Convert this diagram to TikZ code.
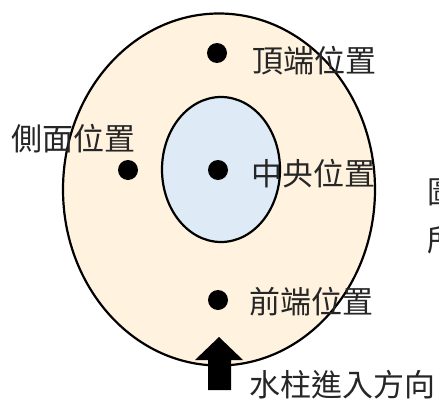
\documentclass[tikz,border=0pt]{standalone}
\usepackage{fontspec}
\usetikzlibrary{shapes.geometric}
\newfontfamily\cjk{Noto Sans CJK TC}
\definecolor{outerfill}{HTML}{FFF3DF}
\definecolor{innerfill}{HTML}{DEEBF7}
\tikzset{
  region/.style={draw=black, line width=2.2pt, shape=ellipse, inner sep=0pt},
  spot/.style={circle, fill=black, minimum size=20pt, inner sep=0pt},
  lbl/.style={anchor=base west, inner sep=0pt, font=\cjk\fontsize{31}{37}\selectfont, text=black!85}
}
\begin{document}
\begin{tikzpicture}[x=1pt,y=-1pt]
\useasboundingbox (0,0) rectangle (439,399);
\clip (0,0) rectangle (439,399);
\fill[white] (0,0) rectangle (439,399);
% outer and inner regions
\node[region, fill=outerfill, minimum width=312pt, minimum height=352pt] (outer) at (219,189.5) {};
\node[region, fill=innerfill, minimum width=118pt, minimum height=145pt] (inner) at (221,169.5) {};
% dots
\node[spot] (top) at (217,53) {};
\node[spot] (side) at (128,170) {};
\node[spot] (center) at (218,170) {};
\node[spot] (front) at (218,300) {};
% arrow
\fill[black] (219,337) -- (243,360) -- (231,360) -- (231,390) -- (208,390) -- (208,360) -- (195,360) -- cycle;
\coordinate (arr) at (219,337);
% labels
\node[lbl] (ltop) at (252,72) {頂端位置};
\node[lbl] (lside) at (11,150) {側面位置};
\node[lbl] (lcenter) at (251,185) {中央位置};
\node[lbl] (lfront) at (249,313) {前端位置};
\node[lbl] (ldir) at (249,396) {水柱進入方向};
\node[lbl] (r1) at (427,203) {圖};
\node[lbl] (r2) at (427,251) {所};
\end{tikzpicture}
\end{document}
